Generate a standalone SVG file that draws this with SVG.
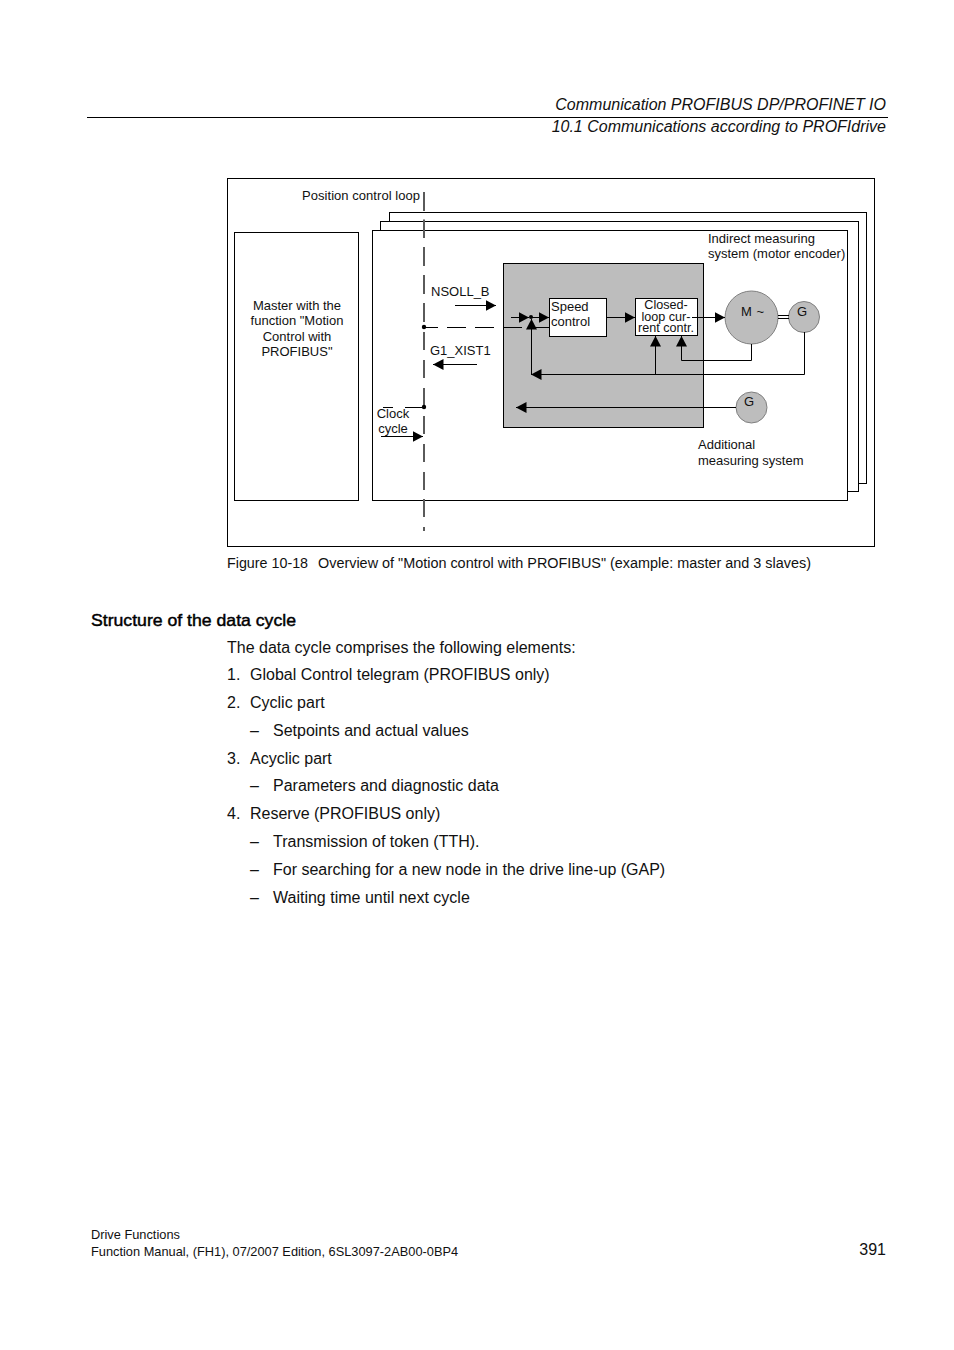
<svg xmlns="http://www.w3.org/2000/svg" width="954" height="1350" viewBox="0 0 954 1350">
<style>
text{font-family:"Liberation Sans",Arial,sans-serif;fill:#111}
.b{font-size:16px}.d{font-size:13px}.f{font-size:12.800px}
.i{font-size:16px;font-style:italic}
.l{fill:none;stroke:#000;stroke-width:1}
.w{fill:#fff;stroke:#000;stroke-width:1}
.g{fill:#bdbdbd;stroke:#808080;stroke-width:1}
.dash{fill:none;stroke:#5a5a5a;stroke-width:2}
</style>
<defs>
<marker id="a" markerUnits="userSpaceOnUse" markerWidth="11" markerHeight="12" refX="10.500" refY="5.500" orient="auto"><path d="M0 0L10.500 5.500L0 11Z" fill="#000"/></marker>
</defs>
<rect width="954" height="1350" fill="#fff"/>
<g id="header">
<text class="i" x="886" y="110" text-anchor="end">Communication PROFIBUS DP/PROFINET IO</text>
<line x1="87" y1="117.500" x2="888" y2="117.500" stroke="#000"/>
<text class="i" x="886" y="132" text-anchor="end">10.1 Communications according to PROFIdrive</text>
</g>
<g id="frame"><rect x="227.500" y="178.500" width="647" height="368" fill="none" stroke="#000"/></g>
<g id="slave3"><rect class="w" x="389.500" y="212.500" width="477" height="271"/></g>
<g id="slave2"><rect class="w" x="380.500" y="221.500" width="478" height="270"/></g>
<g id="slave1"><rect class="w" x="372.500" y="230.500" width="475" height="270"/></g>
<g id="master"><rect class="w" x="234.500" y="232.500" width="124" height="268"/>
<text class="d" text-anchor="middle"><tspan x="297" y="310">Master with the</tspan><tspan x="297" y="325">function "Motion</tspan><tspan x="297" y="341">Control with</tspan><tspan x="297" y="356">PROFIBUS"</tspan></text></g>
<g id="controller"><rect x="503.500" y="263.500" width="200" height="164" fill="#bdbdbd" stroke="#000"/></g>
<g id="speed"><rect class="w" x="549.500" y="298.500" width="57" height="38"/>
<text class="d"><tspan x="551" y="311">Speed</tspan><tspan x="551" y="326">control</tspan></text></g>
<g id="current"><rect class="w" x="635.500" y="298.500" width="62" height="37"/>
<text text-anchor="middle" style="font-size:12.600px"><tspan x="666" y="309">Closed-</tspan><tspan x="666" y="320.500">loop cur-</tspan><tspan x="666" y="332">rent contr.</tspan></text></g>
<g id="motor"><circle class="g" cx="751.500" cy="317.500" r="26.500"/><text class="d"><tspan x="741" y="316">M</tspan><tspan x="756.500" y="316">~</tspan></text></g>
<g id="encoder"><circle class="g" cx="804" cy="317" r="15.500"/><text class="d" x="797" y="316">G</text></g>
<g id="encoder2"><circle class="g" cx="751.500" cy="407.500" r="15.500"/><text class="d" x="744" y="406">G</text></g>
<g id="connectors">
<path class="dash" d="M424 192V211M424 219.500V238M424 247V266M424 275V294M424 303V322M424 332V350M424 360V378M424 388V407M424 416V434M424 444V462M424 472V490M424 499V517M424 527V531"/>
<path class="l" d="M424 327.500H438M447 327.500H466M475 327.500H494M503 327.500H522M532 327.500H549"/>
<circle cx="424" cy="327" r="2.200"/><circle cx="424" cy="407" r="2.200"/><circle cx="531" cy="317" r="2"/>
<path class="l" d="M383 407.500H393M405 407.500H424"/>
<path class="l" d="M455 305.500H496" marker-end="url(#a)"/>
<path class="l" d="M477 364.500H433" marker-end="url(#a)"/>
<path class="l" d="M381 436.500H423" marker-end="url(#a)"/>
<path class="l" d="M511 317.500H529" marker-end="url(#a)"/>
<path class="l" d="M531 317.500H549" marker-end="url(#a)"/>
<path class="l" d="M607 317.500H635" marker-end="url(#a)"/>
<path class="l" d="M692 317.500H725" marker-end="url(#a)"/>
<path class="l" d="M804.500 332V374.500H531" marker-end="url(#a)"/>
<path class="l" d="M531.500 374V319" marker-end="url(#a)"/>
<path class="l" d="M655.500 374V336" marker-end="url(#a)"/>
<path class="l" d="M751.500 344V360.500H681.500V336" marker-end="url(#a)"/>
<path class="l" d="M736 407.500H516" marker-end="url(#a)"/>
<path class="l" d="M778 315.500H789M778 318.500H789"/>
</g>
<g id="labels">
<text class="d" x="420" y="200" text-anchor="end" textLength="118">Position control loop</text>
<text class="d"><tspan x="708" y="243">Indirect measuring</tspan><tspan x="708" y="258">system (motor encoder)</tspan></text>
<text class="d" x="431" y="296">NSOLL_B</text>
<text class="d" x="430" y="355">G1_XIST1</text>
<text class="d" text-anchor="middle"><tspan x="393" y="418">Clock</tspan><tspan x="393" y="433">cycle</tspan></text>
<text class="d"><tspan x="698" y="449">Additional</tspan><tspan x="698" y="465">measuring system</tspan></text>
</g>
<g id="body">
<text x="227" y="568" style="font-size:14.300px">Figure 10-18</text><text x="318" y="568" style="font-size:14.420px">Overview of "Motion control with PROFIBUS" (example: master and 3 slaves)</text>
<text x="91" y="626" textLength="205" lengthAdjust="spacingAndGlyphs" style="font-size:17px;fill:#000;stroke:#000;stroke-width:.45">Structure of the data cycle</text>
<text class="b" x="227" y="653">The data cycle comprises the following elements:</text>
<text class="b" x="227" y="680">1.</text><text class="b" x="250" y="680">Global Control telegram (PROFIBUS only)</text>
<text class="b" x="227" y="708">2.</text><text class="b" x="250" y="708">Cyclic part</text>
<text class="b" x="250" y="736">–</text><text class="b" x="273" y="736">Setpoints and actual values</text>
<text class="b" x="227" y="764">3.</text><text class="b" x="250" y="764">Acyclic part</text>
<text class="b" x="250" y="791">–</text><text class="b" x="273" y="791">Parameters and diagnostic data</text>
<text class="b" x="227" y="819">4.</text><text class="b" x="250" y="819">Reserve (PROFIBUS only)</text>
<text class="b" x="250" y="847">–</text><text class="b" x="273" y="847">Transmission of token (TTH).</text>
<text class="b" x="250" y="875">–</text><text class="b" x="273" y="875">For searching for a new node in the drive line-up (GAP)</text>
<text class="b" x="250" y="903">–</text><text class="b" x="273" y="903">Waiting time until next cycle</text>
</g>
<g id="footer">
<text class="f" x="91" y="1239">Drive Functions</text>
<text class="f" x="91" y="1256">Function Manual, (FH1), 07/2007 Edition, 6SL3097-2AB00-0BP4</text>
<text class="b" x="886" y="1255" text-anchor="end">391</text>
</g>
</svg>
